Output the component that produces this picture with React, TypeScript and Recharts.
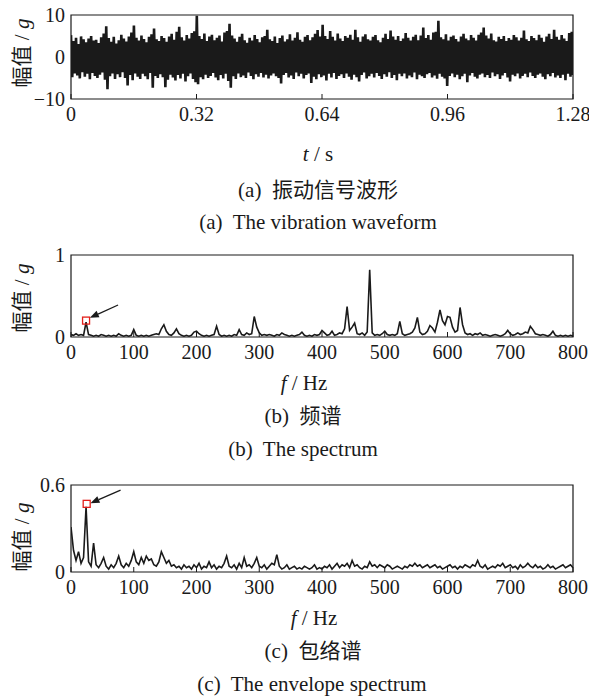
import React from 'react'
import { LineChart, Line, XAxis, YAxis, ReferenceArea, ReferenceDot, ReferenceLine } from 'recharts'

// (a) waveform: upper and lower excursions, left to right
const WAVE_PEAKS = [
  5.2, 3.8, 4.6, 3.1, 4.9, 4.2, 3.5, 4.4, 5.0, 3.9, 4.1, 3.3, 4.7, 5.6, 7.3, 4.5, 3.6, 4.8, 3.2, 4.0,
  5.3, 4.4, 3.7, 4.9, 5.8, 7.5, 4.6, 3.9, 5.1, 4.3, 3.5, 4.8, 5.4, 6.8, 4.2, 3.8, 5.0, 4.5, 3.6, 4.9,
  5.5, 4.1, 6.0, 7.2, 4.7, 3.9, 5.2, 4.4, 5.7, 6.1, 9.8, 5.0, 4.3, 5.6, 3.8, 4.9, 5.3, 4.0, 4.6, 5.1,
  3.7, 5.8, 6.2, 7.9, 5.1, 4.4, 3.6, 4.8, 5.5, 4.0, 3.4, 4.6, 3.9, 5.2, 4.3, 3.5, 4.7, 5.0, 6.5, 4.2,
  3.8, 4.9, 3.3, 4.5, 5.1, 3.7, 4.2, 5.4, 3.9, 4.6, 5.9, 4.1, 3.6, 4.8, 5.2, 4.0, 4.7, 5.5, 6.4, 4.9,
  7.7, 5.0, 4.3, 6.2, 4.8, 3.9, 5.6, 4.4, 3.8, 5.0, 4.6, 5.3, 4.1, 6.5, 4.7, 3.6, 4.9, 5.4, 4.2, 3.9,
  4.8, 5.2, 4.0, 3.5, 4.6, 5.5, 4.3, 6.3, 4.9, 4.1, 5.0, 3.8, 4.4, 5.7, 4.6, 3.9, 4.8, 5.3, 4.0, 5.1,
  7.0, 4.5, 5.2, 4.1, 5.8, 6.0, 8.6, 4.7, 4.2, 5.4, 3.9, 4.8, 5.1, 4.3, 3.7, 4.9, 5.5, 4.4, 4.0, 5.2,
  4.6, 3.9, 5.3, 5.8, 7.0, 5.1, 4.4, 5.6, 4.0, 3.7, 4.8, 4.3, 5.0, 3.8, 4.5, 4.1, 5.2, 4.7, 3.9, 4.6,
  6.3, 4.2, 3.8, 5.0, 4.5, 4.0, 5.3, 4.6, 3.6, 4.9, 5.5, 4.3, 6.5, 4.8, 4.1, 5.2, 4.4, 3.8, 5.7, 6.0,
]
const WAVE_TROUGHS = [
  -4.8, -3.9, -4.4, -5.1, -3.6, -4.7, -4.0, -5.3, -3.8, -4.5, -5.0, -4.2, -3.7, -5.4, -7.7, -4.6, -3.9, -5.2, -4.1, -4.8,
  -3.6, -5.0, -6.8, -4.3, -5.5, -3.9, -4.7, -5.2, -4.0, -4.6, -5.3, -3.8, -7.3, -4.5, -5.0, -4.1, -4.8, -7.2, -5.4, -4.2,
  -4.9, -5.6, -4.3, -5.1, -4.0, -5.8, -4.6, -3.9, -5.2, -6.0, -6.5, -4.8, -5.3, -4.2, -5.0, -4.5, -3.8, -4.9, -5.5, -4.3,
  -5.1, -4.0, -5.7, -7.3, -4.6, -5.2, -3.9, -4.8, -4.4, -5.0, -3.7, -4.5, -5.3, -4.1, -4.7, -3.8, -4.9, -4.2, -5.1, -4.4,
  -3.9, -4.6, -5.0, -6.3, -4.3, -3.8, -4.9, -4.4, -5.2, -3.7, -4.6, -4.0, -5.1, -4.3, -3.9, -6.2, -4.7, -5.3, -4.1, -4.8,
  -4.4, -5.6, -4.0, -4.9, -3.8, -5.2, -4.5, -4.1, -5.0, -3.9, -4.7, -5.4, -4.2, -4.8, -5.8, -4.3, -3.7, -5.1, -4.6, -4.0,
  -4.9, -3.8, -4.5, -5.2, -4.1, -4.7, -3.6, -5.0, -4.3, -5.5, -4.0, -4.6, -3.9, -5.1, -4.4, -4.8, -3.7, -5.3, -4.2, -4.6,
  -5.0, -4.1, -3.8, -4.9, -4.4, -5.2, -4.0, -4.7, -5.1, -6.9, -4.5, -3.9, -4.8, -4.2, -5.3, -4.6, -4.0, -6.0, -4.4, -3.8,
  -4.7, -5.1, -4.2, -3.9, -4.8, -4.3, -5.0, -3.7, -4.6, -4.1, -5.2, -4.4, -3.8, -4.9, -5.8, -4.2, -4.6, -3.9, -5.1, -4.5,
  -4.0, -4.8, -3.7, -4.5, -5.0, -4.2, -3.9, -4.7, -5.3, -4.1, -4.6, -3.8, -4.9, -4.4, -5.0, -4.2, -5.5, -4.0, -4.7, -4.3,
]
const T_TICKS = [0, 0.32, 0.64, 0.96, 1.28]

// (b) spectrum, one value every 4 Hz from 0 to 800 Hz
const SPECTRUM = [
  0.03, 0.02, 0.04, 0.02, 0.03, 0.02, 0.18, 0.03, 0.02, 0.01, 0.02, 0.01, 0.03, 0.02, 0.01, 0.02, 0.01, 0.02, 0.01, 0.04,
  0.02, 0.01, 0.02, 0.01, 0.02, 0.09, 0.02, 0.01, 0.02, 0.01, 0.02, 0.01, 0.02, 0.03, 0.04, 0.03, 0.10, 0.15, 0.07, 0.03,
  0.02, 0.05, 0.10, 0.04, 0.02, 0.01, 0.02, 0.01, 0.02, 0.06, 0.07, 0.04, 0.02, 0.01, 0.02, 0.01, 0.02, 0.03, 0.13, 0.03,
  0.01, 0.02, 0.01, 0.02, 0.01, 0.03, 0.02, 0.09, 0.03, 0.02, 0.05, 0.03, 0.04, 0.25, 0.12, 0.05, 0.02, 0.03, 0.02, 0.03,
  0.02, 0.01, 0.03, 0.02, 0.05, 0.03, 0.02, 0.01, 0.02, 0.01, 0.02, 0.03, 0.06, 0.02, 0.01, 0.02, 0.01, 0.03, 0.02, 0.03,
  0.08, 0.05, 0.02, 0.03, 0.07, 0.02, 0.03, 0.05, 0.04, 0.10, 0.37, 0.08, 0.12, 0.17, 0.04, 0.03, 0.05, 0.02, 0.06, 0.82,
  0.05, 0.02, 0.03, 0.02, 0.04, 0.07, 0.03, 0.02, 0.03, 0.02, 0.04, 0.19, 0.04, 0.02, 0.03, 0.04, 0.06, 0.11, 0.24, 0.06,
  0.03, 0.04, 0.07, 0.14, 0.11, 0.06, 0.18, 0.33, 0.20, 0.15, 0.25, 0.24, 0.12, 0.06, 0.08, 0.36, 0.15, 0.05, 0.03, 0.04,
  0.02, 0.04, 0.03, 0.05, 0.02, 0.03, 0.02, 0.01, 0.02, 0.03, 0.02, 0.01, 0.02, 0.04, 0.08, 0.04, 0.02, 0.03, 0.05, 0.03,
  0.04, 0.06, 0.05, 0.13, 0.09, 0.04, 0.03, 0.02, 0.03, 0.02, 0.01, 0.03, 0.07, 0.02, 0.01, 0.02, 0.01, 0.02, 0.01, 0.02,
  0.01,
]

// (c) envelope spectrum, one value every 4 Hz from 0 to 800 Hz
const ENVELOPE = [
  0.31, 0.15, 0.08, 0.14, 0.06, 0.10, 0.45, 0.07, 0.04, 0.20, 0.05, 0.03, 0.06, 0.10, 0.04, 0.02, 0.05, 0.03, 0.06, 0.11,
  0.05, 0.03, 0.06, 0.04, 0.08, 0.14, 0.07, 0.05, 0.10, 0.06, 0.11, 0.08, 0.09, 0.05, 0.04, 0.07, 0.14, 0.10, 0.06, 0.08,
  0.04, 0.05, 0.03, 0.04, 0.02, 0.05, 0.03, 0.04, 0.02, 0.05, 0.03, 0.06, 0.02, 0.04, 0.03, 0.07, 0.03, 0.05, 0.02, 0.04,
  0.03, 0.06, 0.11, 0.04, 0.03, 0.05, 0.02, 0.06, 0.03, 0.10, 0.04, 0.05, 0.03, 0.06, 0.10, 0.04, 0.03, 0.05, 0.02, 0.04,
  0.06, 0.05, 0.12, 0.04, 0.02, 0.03, 0.05, 0.02, 0.03, 0.04, 0.02, 0.03, 0.02, 0.04, 0.03, 0.02, 0.03, 0.05, 0.02, 0.03,
  0.02, 0.04, 0.03, 0.05, 0.02, 0.04, 0.06, 0.03, 0.05, 0.04, 0.06, 0.03, 0.08, 0.04, 0.05, 0.03, 0.02, 0.04, 0.03, 0.07,
  0.04, 0.05, 0.03, 0.05, 0.04, 0.03, 0.05, 0.04, 0.02, 0.03, 0.04, 0.03, 0.02, 0.04, 0.03, 0.05, 0.04, 0.06, 0.04, 0.05,
  0.03, 0.04, 0.05, 0.03, 0.04, 0.05, 0.03, 0.04, 0.02, 0.03, 0.04, 0.05, 0.03, 0.04, 0.02, 0.04, 0.03, 0.05, 0.04, 0.03,
  0.05, 0.04, 0.08, 0.04, 0.03, 0.05, 0.02, 0.03, 0.04, 0.03, 0.05, 0.04, 0.06, 0.03, 0.04, 0.05, 0.03, 0.04, 0.02, 0.05,
  0.03, 0.04, 0.06, 0.04, 0.03, 0.05, 0.03, 0.04, 0.02, 0.03, 0.05, 0.03, 0.04, 0.02, 0.03, 0.04, 0.05, 0.03, 0.04, 0.05,
  0.03,
]
const F_STEP = 4
const F_TICKS = [0, 100, 200, 300, 400, 500, 600, 700, 800]

// marked components (frequency, amplitude) and arrow tails
const SPEC_MARK = { f: 24, v: 0.2 }
const SPEC_ARROW = [{ x: 75, y: 0.39 }, { x: 30, y: 0.235 }]
const ENV_MARK = { f: 25, v: 0.47 }
const ENV_ARROW = [{ x: 79, y: 0.565 }, { x: 31, y: 0.475 }]

const SERIF = "'Liberation Serif', 'Times New Roman', serif"
const MIXED = "'Liberation Serif', 'Noto Sans CJK SC', serif"
const INK = '#1a1a1a'

const waveData: { t: number; v: number }[] = []
WAVE_PEAKS.forEach((p, i) => {
  waveData.push({ t: 0, v: p })
  waveData.push({ t: 0, v: WAVE_TROUGHS[i] })
})
waveData.forEach((d, k) => {
  d.t = (k * 1.28) / (waveData.length - 1)
})
const specData = SPECTRUM.map((v, i) => ({ f: i * F_STEP, v }))
const envData = ENVELOPE.map((v, i) => ({ f: i * F_STEP, v }))

function XTick(props: any) {
  const { x, y, payload } = props
  return (
    <g>
      <line x1={x} x2={x} y1={y} y2={y - 5} stroke={INK} strokeWidth={1} />
      <text x={x} y={y + 22} textAnchor="middle" fill={INK} style={{ fontFamily: SERIF, fontSize: 20 }}>
        {String(payload.value)}
      </text>
    </g>
  )
}

const yFmt = (v: number) => (v < 0 ? `\u2212${Math.abs(v)}` : String(v))

function Arrow(props: any) {
  const { x1, y1, x2, y2 } = props
  const a = Math.atan2(y2 - y1, x2 - x1)
  const L = 9
  const W = 3.5
  const bx = x2 - L * Math.cos(a)
  const by = y2 - L * Math.sin(a)
  const px = -Math.sin(a) * W
  const py = Math.cos(a) * W
  return (
    <g>
      <line x1={x1} y1={y1} x2={bx} y2={by} stroke={INK} strokeWidth={1.3} />
      <polygon points={`${x2},${y2} ${bx + px},${by + py} ${bx - px},${by - py}`} fill={INK} />
    </g>
  )
}

const RedSquare = (p: any) => (
  <rect x={p.cx - 3.5} y={p.cy - 3.5} width={7} height={7} fill="none" stroke="#e3201b" strokeWidth={1.3} />
)

interface PanelProps {
  top: number
  height: number
  data: any[]
  xKey: string
  xMax: number
  xTicks: number[]
  yMin: number
  yMax: number
  yTicks: number[]
  lineWidth: number
  children?: React.ReactNode
}

function Panel({ top, height, data, xKey, xMax, xTicks, yMin, yMax, yTicks, lineWidth, children }: PanelProps) {
  return (
    <div style={{ position: 'absolute', left: 0, top }}>
      <LineChart width={589} height={height} data={data} margin={{ top: 10, right: 16, bottom: 0, left: 0 }}>
        <XAxis
          dataKey={xKey}
          type="number"
          domain={[0, xMax]}
          ticks={xTicks}
          allowDataOverflow
          height={30}
          axisLine={false}
          tickLine={false}
          tickSize={0}
          tickMargin={0}
          tick={<XTick />}
          interval={0}
        />
        <YAxis
          type="number"
          domain={[yMin, yMax]}
          ticks={yTicks}
          allowDataOverflow
          width={71}
          axisLine={false}
          tickLine={false}
          tickSize={0}
          tickMargin={6}
          tickFormatter={yFmt}
          tick={{ fill: INK, fontSize: 20, fontFamily: SERIF }}
          interval={0}
        />
        <Line
          dataKey="v"
          type="linear"
          stroke={INK}
          strokeWidth={lineWidth}
          strokeLinejoin="miter"
          dot={false}
          activeDot={false}
          isAnimationActive={false}
        />
        <ReferenceArea x1={0} x2={xMax} y1={yMin} y2={yMax} fill="none" stroke={INK} strokeWidth={1.2} />
        {children}
      </LineChart>
    </div>
  )
}

function Caption({ cx, cy, size, children }: { cx: number; cy: number; size: number; children: React.ReactNode }) {
  return (
    <div
      style={{
        position: 'absolute',
        left: cx,
        top: cy,
        transform: 'translate(-50%, -50%)',
        fontFamily: MIXED,
        fontSize: size,
        color: INK,
        whiteSpace: 'pre',
        lineHeight: 1,
      }}
    >
      {children}
    </div>
  )
}

function YLabel({ cy }: { cy: number }) {
  return (
    <div
      style={{
        position: 'absolute',
        left: 22,
        top: cy,
        transform: 'translate(-50%, -50%) rotate(-90deg)',
        fontFamily: MIXED,
        fontSize: 21,
        color: INK,
        whiteSpace: 'pre',
        lineHeight: 1,
      }}
    >
      幅值 / <i>g</i>
    </div>
  )
}

export default function App() {
  return (
    <div style={{ position: 'absolute', left: 0, top: 0, width: 589, height: 697, background: '#fff', overflow: 'hidden' }}>
      <Panel top={5} height={124} data={waveData} xKey="t" xMax={1.28} xTicks={T_TICKS} yMin={-10} yMax={10} yTicks={[-10, 0, 10]} lineWidth={2.6} />
      <YLabel cy={53} />
      <Caption cx={318} cy={154} size={21}>
        <i>t</i> / s
      </Caption>
      <Caption cx={318} cy={190} size={21}>{'(a)  振动信号波形'}</Caption>
      <Caption cx={318} cy={222} size={21}>{'(a)  The vibration waveform'}</Caption>

      <Panel top={245} height={122} data={specData} xKey="f" xMax={800} xTicks={F_TICKS} yMin={0} yMax={1} yTicks={[0, 1]} lineWidth={1.6}>
        <ReferenceLine segment={SPEC_ARROW} shape={<Arrow />} />
        <ReferenceDot x={SPEC_MARK.f} y={SPEC_MARK.v} shape={RedSquare} />
      </Panel>
      <YLabel cy={298} />
      <Caption cx={304} cy={383} size={21}>
        <i>f</i> / Hz
      </Caption>
      <Caption cx={303} cy={416} size={21}>{'(b)  频谱'}</Caption>
      <Caption cx={303} cy={449} size={21}>{'(b)  The spectrum'}</Caption>

      <Panel top={475} height={127} data={envData} xKey="f" xMax={800} xTicks={F_TICKS} yMin={0} yMax={0.6} yTicks={[0, 0.6]} lineWidth={1.6}>
        <ReferenceLine segment={ENV_ARROW} shape={<Arrow />} />
        <ReferenceDot x={ENV_MARK.f} y={ENV_MARK.v} shape={RedSquare} />
      </Panel>
      <YLabel cy={537} />
      <Caption cx={314} cy={618} size={21}>
        <i>f</i> / Hz
      </Caption>
      <Caption cx={313} cy={651} size={21}>{'(c)  包络谱'}</Caption>
      <Caption cx={312} cy={684} size={21}>{'(c)  The envelope spectrum'}</Caption>
    </div>
  )
}
